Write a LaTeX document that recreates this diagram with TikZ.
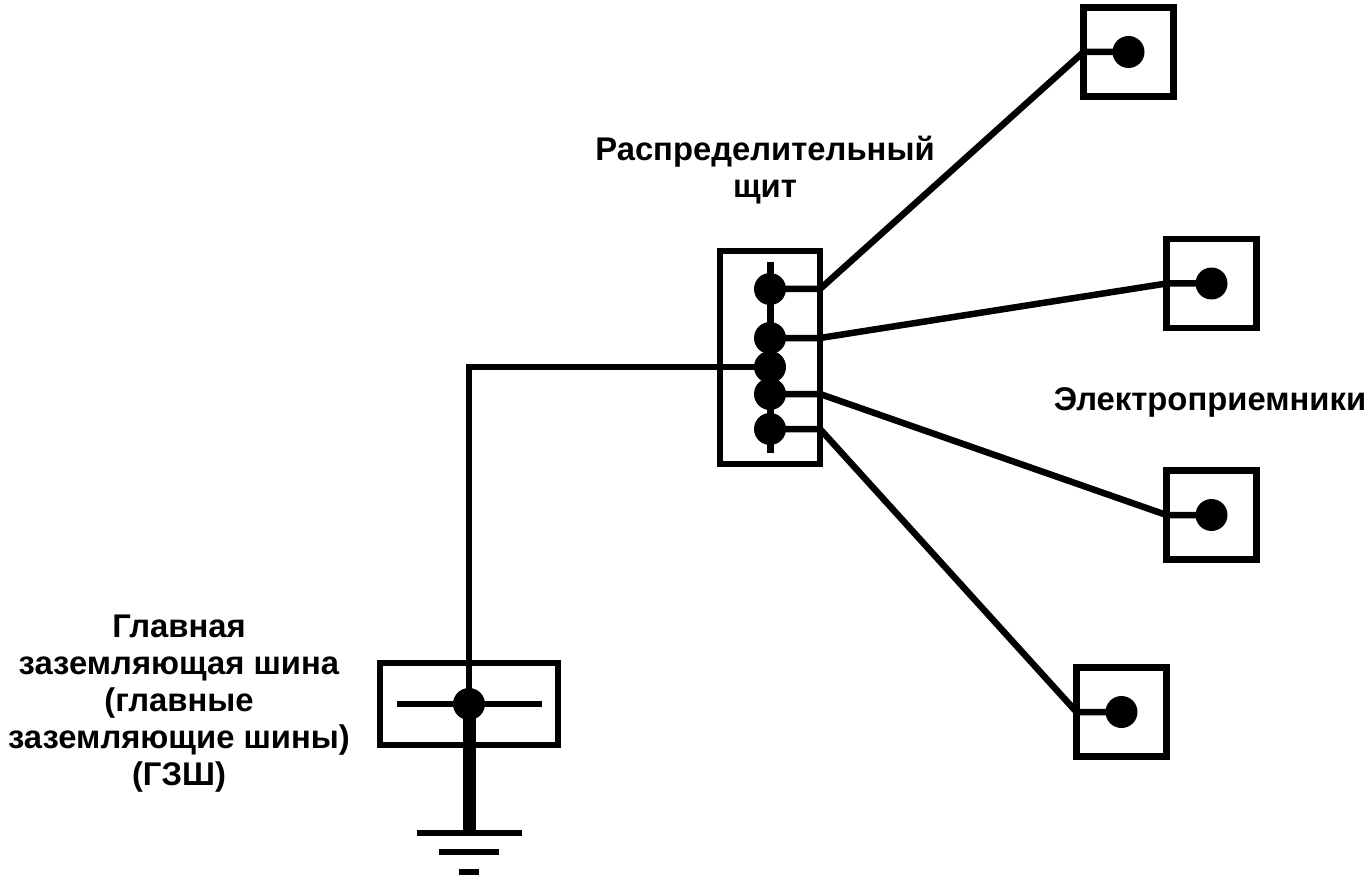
\documentclass[tikz,border=0pt]{standalone}
\usepackage{fontspec}
\setmainfont{Liberation Sans}
\usetikzlibrary{calc}

\begin{document}
\begin{tikzpicture}[x=1pt,y=-1pt,line width=6.5pt,
                    dot/.style={circle,fill=black,inner sep=0pt,minimum size=32pt},
                    box/.style={draw,inner sep=0pt,outer sep=0pt},
                    recv/.style={box,minimum width=90pt,minimum height=89pt},
                    lbl/.style={align=center,font=\fontsize{32.8}{37}\selectfont\bfseries}]
                      \useasboundingbox (0,0) rectangle (1372,882);
                      % distribution board
                      \node[box,minimum width=100pt,minimum height=213pt](sh)at(770,357.5){};
                      \foreach \i/\y in {1/289,2/338,3/367,4/394,5/429}
                        \node[dot](d\i)at(770,\y){};
                      \draw[line width=7pt] ([yshift=27pt]d1.center) -- ([yshift=-24pt]d5.center);
                      % receivers
                      \foreach \i/\p in {1/{1128.5,52},2/{1211.5,283.5},3/{1211.5,515},4/{1121.5,712}}{
                        \node[recv](r\i)at(\p){};
                        \node[dot](e\i)at(r\i.center){};
                      }
                      \foreach \i/\j in {1/1,2/2,4/3,5/4}
                        \draw (d\i.center) -- (d\i.center -| sh.east) -- (e\j.center -| r\j.west) -- (e\j.center);
                      % main earthing bar
                      \node[box,minimum width=178pt,minimum height=82pt](gz)at(469,704){};
                      \node[dot](g)at(gz.center){};
                      \draw (d3.center) -| (g.center);
                      \draw ([xshift=-72pt]g.center) -- ([xshift=73pt]g.center);
                      \coordinate (gr) at (469,833);
                      \draw[line width=13pt] (g.center) -- (gr);
                      \draw ([xshift=-52pt]gr) -- ([xshift=53pt]gr);
                      \draw ([shift={(-30,19)}]gr) -- ([shift={(30,19)}]gr);
                      \draw ([shift={(-10,39)}]gr) -- ([shift={(10,39)}]gr);
                      % labels
                      \node[lbl](shl)at(765,170){Распределительный\\щит};
                      \node[lbl](gzl)at(179,704){Главная\\заземляющая шина\\(главные\\заземляющие шины)\\(ГЗШ)};
                      \node[lbl,anchor=base](epl)at(1210,410){Электроприемники};
                  \end{tikzpicture}
\end{document}
